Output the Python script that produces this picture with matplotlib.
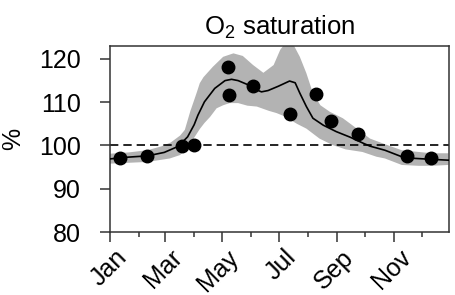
import numpy as np
import matplotlib
matplotlib.use("Agg")
import matplotlib.pyplot as plt
from matplotlib.transforms import ScaledTranslation

plt.rcParams['font.family'] = ['Liberation Sans', 'DejaVu Sans']
plt.rcParams['mathtext.default'] = 'regular'

# ---- data (day of year, % saturation) ----
month_ticks = [0, 59, 120, 181, 243, 304]
month_labels = ["Jan", "Mar", "May", "Jul", "Sep", "Nov"]
minor_ticks = [31, 90, 151, 212, 273, 334]

obs_day = [11, 40, 77, 90, 126, 127, 153, 192, 220, 236, 265, 318, 343]
obs_val = [97.0, 97.5, 99.9, 100.1, 118.1, 111.7, 113.7, 107.3, 112.0, 105.6, 102.7, 97.5, 97.1]

fit_day = [0, 19, 40, 58, 73, 83, 90, 94, 101, 112, 123, 130, 137, 148, 155, 162, 169,
           180, 192, 198, 203, 210, 217, 228, 242, 257, 271, 278, 294, 312, 319, 344, 362]
fit_val = [96.9, 97.3, 97.6, 98.4, 99.8, 102.0, 104.8, 107.0, 110.1, 113.2, 115.0, 115.3,
           115.0, 114.0, 113.0, 112.4, 112.7, 113.7, 114.9, 114.5, 112.1, 109.0, 106.3,
           104.7, 103.2, 101.9, 100.5, 99.85, 98.9, 97.4, 97.1, 96.8, 96.6]

upper_day = [0, 20, 40, 55, 65, 75, 80, 86, 90, 93, 96, 100, 110, 121, 132, 142, 153, 164,
             175, 182, 192, 203, 210, 217, 225, 235, 249, 264, 278, 294, 312, 344, 362]
upper_val = [98.1, 98.4, 98.9, 99.8, 100.7, 102.3, 103.6, 108.0, 110.5, 112.4, 114.4, 115.8,
             118.2, 120.5, 121.3, 120.7, 118.6, 116.8, 118.6, 122.1, 125.0, 120.5, 116.7,
             112.1, 109.3, 107.8, 106.3, 103.9, 101.6, 100.3, 98.9, 98.2, 98.2]

lower_day = [0, 20, 40, 64, 75, 84, 90, 96, 101, 107, 114, 121, 128, 137, 147, 157, 170,
             178, 186, 193, 200, 210, 224, 238, 252, 270, 285, 294, 312, 330, 344, 362]
lower_val = [95.8, 96.0, 96.2, 97.0, 97.8, 99.8, 101.8, 103.8, 105.2, 106.6, 108.6, 109.3,
             109.8, 109.8, 109.2, 109.0, 108.0, 107.5, 106.8, 105.9, 105.0, 103.9, 101.6,
             100.1, 99.1, 98.5, 97.4, 97.0, 95.5, 95.3, 95.3, 95.5]

ref_level = 100
y_ticks = [80, 90, 100, 110, 120]

# ---- figure ----
fs = 18
fig = plt.figure(figsize=(4.56, 2.95), dpi=100)
ax = fig.add_axes([110/456, 1-232/295, (449-110)/456, (232-46)/295])

band_x = np.r_[upper_day, lower_day[::-1]]
band_y = np.r_[upper_val, lower_val[::-1]]
ax.fill(band_x, band_y, color='#b3b3b3', lw=0, zorder=1)
ax.axhline(ref_level, color='black', lw=1.2, ls=(0, (5.0, 3.0)), zorder=2)
ax.plot(fit_day, fit_val, color='black', lw=1.2, zorder=3)
ax.plot(obs_day, obs_val, 'o', color='black', ms=9, zorder=4)

ax.set_xlim(0, 362.5)
ax.set_ylim(80, 123)
ax.set_yticks(y_ticks)
ax.set_xticks(month_ticks)
ax.set_xticks(minor_ticks, minor=True)
ax.set_xticklabels(month_labels, rotation=45, ha='right', va='center',
                   rotation_mode='anchor')

for sp in ax.spines.values():
    sp.set_color('#333333')
    sp.set_linewidth(1.1)

ax.tick_params(axis='y', length=7.2, width=1.1, pad=14, labelsize=fs, color='#333333')
ax.tick_params(axis='x', which='major', length=7.2, width=1.1, pad=8.5, labelsize=fs, color='#333333')
ax.tick_params(axis='x', which='minor', length=3.6, width=1.1, color='#333333')

off = ScaledTranslation(13/100, 0, fig.dpi_scale_trans)
for lab in ax.get_xticklabels():
    lab.set_transform(lab.get_transform() + off)

ax.set_title("O$_2$ saturation", fontsize=18.5, pad=8)
fig.text(1/456, 1-139/295, "%", rotation=90, fontsize=fs, ha='left', va='center')

fig.savefig("out.png", dpi=100)
